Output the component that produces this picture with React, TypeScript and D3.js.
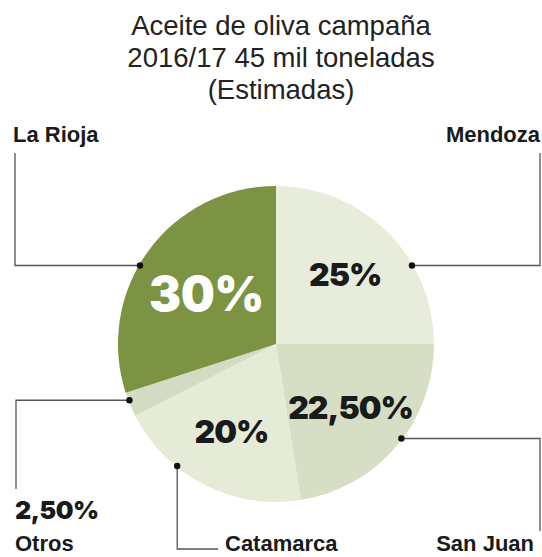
import * as d3 from 'd3'

// chart values
const provinces = ['Mendoza', 'San Juan', 'Catamarca', 'Otros', 'La Rioja']
const shares = [25, 22.5, 20, 2.5, 30]
const shareLabels = ['25%', '22,50%', '20%', '2,50%', '30%']
const titleLines = ['Aceite de oliva campaña', '2016/17 45 mil toneladas', '(Estimadas)']

const colors = ['#e7ecdb', '#d6dec6', '#e5ebd7', '#d3dbc2', '#7b9343']

const width = 542
const height = 557
const cx = 276
const cy = 344
const radius = 158

// where the leader dot sits on the rim (degrees, clockwise from top)
const leaderAngles = [60, 127, 219, 249, 300]

const left = 15
const right = 540
const topLeader = 153
const bottomLine = 551

const sansBold = '"Liberation Sans", Arial, sans-serif'
const heavy = 'Inter, "Noto Sans", sans-serif'

function App() {
  const rows = provinces.map((name, i) => ({ name, value: shares[i], label: shareLabels[i], i }))

  const pie = d3
    .pie<any>()
    .sort(null)
    .value((d) => d.value)

  const arcs = pie(rows)

  const arc = d3.arc<any>().innerRadius(0).outerRadius(radius)
  const labelArc = d3.arc<any>().innerRadius(98).outerRadius(98)
  const bigLabelArc = d3.arc<any>().innerRadius(86).outerRadius(86)

  const dotAt = (deg: number) => d3.pointRadial((deg * Math.PI) / 180, radius - 1)

  const leaderPath = (i: number) => {
    const [x, y] = dotAt(leaderAngles[i])
    const px = cx + x
    const py = cy + y
    const name = provinces[i]
    if (name === 'Mendoza') return `M${px},${py}H${right}V${topLeader}`
    if (name === 'San Juan') return `M${px},${py}H${right}V531`
    if (name === 'Catamarca') return `M${px},${py}V${bottomLine - 2}H218`
    if (name === 'Otros') return `M${px},${py}H${left + 1}V489`
    return `M${px},${py}H${left}V${topLeader}`
  }

  const nameLabels: Record<string, { x: number; y: number; anchor: string }> = {
    Mendoza: { x: 540, y: 142, anchor: 'end' },
    'San Juan': { x: 534, y: bottomLine, anchor: 'end' },
    Catamarca: { x: 225, y: bottomLine, anchor: 'start' },
    Otros: { x: 15, y: bottomLine, anchor: 'start' },
    'La Rioja': { x: 13, y: 142, anchor: 'start' },
  }

  return (
    <svg
      width={width}
      height={height}
      style={{ position: 'absolute', left: 0, top: 0, background: '#fff' }}
    >
      <g>
        {titleLines.map((t, i) => (
          <text
            key={t}
            x={281}
            y={35 + i * 32}
            textAnchor="middle"
            fontFamily='"Liberation Sans", Arial, sans-serif'
            fontSize={27.5}
            fill="#222"
          >
            {t}
          </text>
        ))}
      </g>

      <g transform={`translate(${cx},${cy})`}>
        {arcs.map((a) => (
          <path key={a.data.name} d={arc(a) || ''} fill={colors[a.data.i]} />
        ))}
      </g>

      <g fill="none" stroke="#555" strokeWidth={1.3}>
        {provinces.map((p, i) => (
          <path key={p} d={leaderPath(i)} />
        ))}
      </g>
      <g fill="#111">
        {provinces.map((p, i) => {
          const [x, y] = dotAt(leaderAngles[i])
          return <circle key={p} cx={cx + x} cy={cy + y} r={3.2} />
        })}
      </g>

      <g transform={`translate(${cx},${cy})`}>
        {arcs
          .filter((a) => a.data.name !== 'Otros')
          .map((a) => {
            const big = a.data.name === 'La Rioja'
            const [x, y] = (big ? bigLabelArc : labelArc).centroid(a)
            return (
              <text
                key={a.data.name}
                x={x}
                y={y}
                dy="0.36em"
                textAnchor="middle"
                fontFamily={heavy}
                fontWeight={900}
                fontSize={big ? 48 : 32}
                letterSpacing={big ? -0.5 : -1}
                fill={big ? '#fff' : '#1a1a1a'}
              >
                {a.data.label}
              </text>
            )
          })}
      </g>

      <text x={15} y={519} fontFamily={heavy} fontWeight={900} fontSize={25} letterSpacing={-0.5} fill="#1a1a1a">
        {shareLabels[3]}
      </text>

      {provinces.map((p) => {
        const l = nameLabels[p]
        return (
          <text
            key={p}
            x={l.x}
            y={l.y}
            textAnchor={l.anchor}
            fontFamily={sansBold}
            fontWeight="bold"
            fontSize={22}
            fill="#1a1a1a"
          >
            {p}
          </text>
        )
      })}
    </svg>
  )
}

export default App
